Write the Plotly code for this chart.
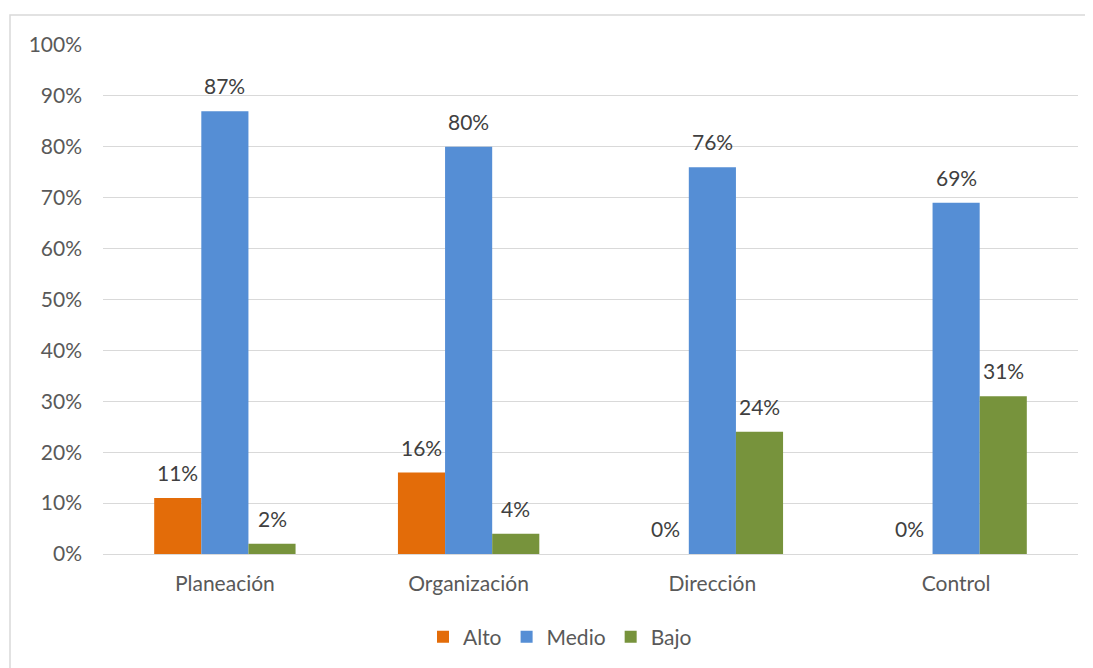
import plotly.graph_objects as go

categories = ["Planeación", "Organización", "Dirección", "Control"]
alto = [11, 16, 0, 0]
medio = [87, 80, 76, 69]
bajo = [2, 4, 24, 31]
series_names = ["Alto", "Medio", "Bajo"]
colors = ["#E36C09", "#558ED5", "#77933C"]

# page has an 8px body margin; figure coordinates are page coords - 8
W, H = 1085, 660
L, R, T, B = 95, 15, 37, 113
pw, ph = W - L - R, H - T - B
BARGAP = 0.42
bar_w = (1 - BARGAP) / 3
FS = 21

fig = go.Figure()
for k, (name, vals, col) in enumerate(zip(series_names, [alto, medio, bajo], colors)):
    fig.add_trace(go.Bar(
        x=categories, y=vals, name=name, marker=dict(color=col, line=dict(width=0)),
        hoverinfo="x+y",
    ))
    for i, v in enumerate(vals):
        fig.add_annotation(
            x=i + (k - 1) * bar_w, y=v, xref="x", yref="y",
            text=f"{v}%", showarrow=False, yanchor="bottom", yshift=11,
            font=dict(size=FS, color="#404040"),
        )

def px_x(x):
    return (x - L) / pw

def px_y(y):
    return (H - B - y) / ph

fig.add_shape(type="rect", xref="paper", yref="paper",
              x0=px_x(2), x1=px_x(1083), y0=px_y(670), y1=px_y(7),
              line=dict(color="#D9D9D9", width=1.5), fillcolor="rgba(0,0,0,0)", layer="below")

fig.update_layout(
    width=W, height=H,
    margin=dict(l=L, r=R, t=T, b=B),
    paper_bgcolor="white", plot_bgcolor="white",
    barmode="group", bargap=BARGAP, bargroupgap=0,
    font=dict(family="Lato, Open Sans, sans-serif", size=FS, color="#595959"),
    showlegend=True,
    legend=dict(orientation="h", x=px_x(552), xanchor="center", y=px_y(629), yanchor="middle",
                font=dict(size=FS, color="#595959"), itemwidth=30, traceorder="normal"),
    xaxis=dict(showgrid=False, showline=True, linecolor="#D9D9D9", linewidth=1,
               ticks="", tickfont=dict(size=FS, color="#595959"), ticklabelstandoff=11),
    yaxis=dict(range=[0, 100], dtick=10, ticksuffix="%", showgrid=True, gridcolor="#D9D9D9",
               gridwidth=1, zeroline=False, showline=False, ticks="",
               tickfont=dict(size=FS, color="#595959"), ticklabelstandoff=20),
)

fig.write_html("out.html")
